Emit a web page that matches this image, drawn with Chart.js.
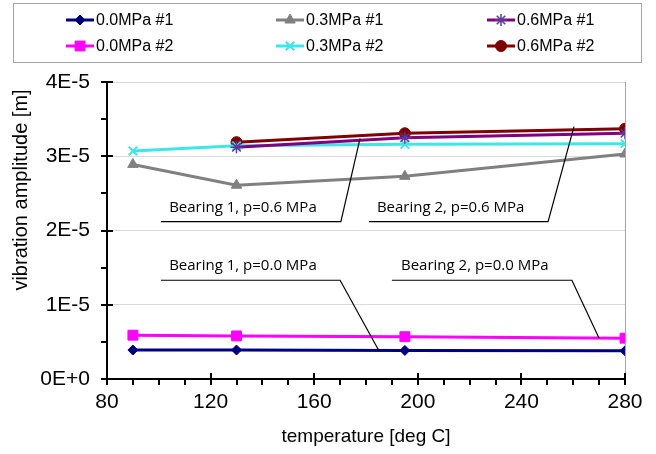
<!DOCTYPE html>
<html>
<head>
<meta charset="utf-8">
<script src="https://cdn.jsdelivr.net/npm/chart.js@4.4.1/dist/chart.umd.min.js"></script>
<style>
  html, body { margin: 0; padding: 0; background: #fff; }
  canvas { display: block; }
</style>
</head>
<body>
<canvas id="ampChart" width="656" height="454"></canvas>
<script>
// ====== DATA ======
// measuring temperatures [deg C]
const temps = [90, 130, 195, 280];

// vibration amplitude [m] per bearing and oil pressure
const amp00b1 = [3.9e-6, 3.9e-6, 3.85e-6, 3.8e-6];
const amp03b1 = [2.89e-5, 2.61e-5, 2.73e-5, 3.03e-5];
const amp06b1 = [null, 3.12e-5, 3.25e-5, 3.31e-5];
const amp00b2 = [5.9e-6, 5.8e-6, 5.7e-6, 5.5e-6];
const amp03b2 = [3.07e-5, 3.14e-5, 3.16e-5, 3.17e-5];
const amp06b2 = [null, 3.19e-5, 3.31e-5, 3.37e-5];

const seriesNames = ['0.0MPa #1', '0.3MPa #1', '0.6MPa #1', '0.0MPa #2', '0.3MPa #2', '0.6MPa #2'];

// axis ticks
const xTicks = [80, 120, 160, 200, 240, 280];
const yTicks = [0, 1e-5, 2e-5, 3e-5, 4e-5];
const xMinorStep = 10;
const yMinorStep = 0.5e-5;

// callout labels, anchored in data units (temperature, amplitude)
const callouts = [
  { text: 'Bearing 1, p=0.6 MPa', at: [104, 2.30e-5], path: [[100.8, 2.12e-5], [170.3, 2.12e-5], [177.7, 3.24e-5]] },
  { text: 'Bearing 2, p=0.6 MPa', at: [184.2, 2.30e-5], path: [[181.2, 2.12e-5], [250.3, 2.12e-5], [260.3, 3.40e-5]] },
  { text: 'Bearing 1, p=0.0 MPa', at: [104, 1.52e-5], path: [[100.8, 1.33e-5], [170, 1.33e-5], [185, 0.38e-5]] },
  { text: 'Bearing 2, p=0.0 MPa', at: [193.5, 1.52e-5], path: [[190, 1.33e-5], [259.5, 1.33e-5], [270, 0.55e-5]] },
];

const AXIS_FONT = '"Liberation Sans", Arial, sans-serif';

const toPoints = vals => temps.map((t, i) => ({ x: t, y: vals[i] }));

function series(i, vals, color, style, radius, extra = {}) {
  return Object.assign({
    label: seriesNames[i],
    data: toPoints(vals),
    borderColor: color,
    backgroundColor: color,
    borderWidth: 3,
    pointStyle: style,
    pointRadius: radius,
    pointHoverRadius: radius,
    pointBackgroundColor: color,
    pointBorderColor: color,
    pointBorderWidth: 1,
    tension: 0,
    spanGaps: false,
  }, extra);
}

const fmtAmp = v => v === 0 ? '0E+0' : Math.round(v * 1e5) + 'E-5';

// ====== PLUGINS ======
// Excel-style tick marks: majors cross the axis, minors sit outside
const axisTicks = {
  id: 'axisTicks',
  afterDatasetsDraw(chart) {
    const { ctx, chartArea: a, scales: { x, y } } = chart;
    ctx.save();
    ctx.strokeStyle = '#000';
    ctx.lineWidth = 2;
    ctx.beginPath();
    for (let v = xTicks[0]; v <= xTicks[xTicks.length - 1]; v += xMinorStep) {
      const px = Math.round(x.getPixelForValue(v));
      const major = xTicks.includes(v);
      ctx.moveTo(px, a.bottom - (major ? 6 : 0));
      ctx.lineTo(px, a.bottom + 6);
    }
    for (let k = 0; k <= 8; k++) {
      const v = k * yMinorStep;
      const py = Math.round(y.getPixelForValue(v));
      const major = k % 2 === 0;
      ctx.moveTo(a.left - 6, py);
      ctx.lineTo(a.left + (major ? 6 : 0), py);
    }
    ctx.stroke();
    ctx.restore();
  }
};

// callout boxes with leader lines
const calloutPlugin = {
  id: 'callouts',
  afterDatasetsDraw(chart) {
    const { ctx, scales: { x, y } } = chart;
    ctx.save();
    ctx.strokeStyle = '#000';
    ctx.lineWidth = 1.2;
    ctx.fillStyle = '#000';
    ctx.font = '15px "Open Sans", sans-serif';
    ctx.textBaseline = 'middle';
    callouts.forEach(c => {
      ctx.beginPath();
      c.path.forEach(([tx, ta], i) => {
        const px = x.getPixelForValue(tx), py = y.getPixelForValue(ta);
        i ? ctx.lineTo(px, py) : ctx.moveTo(px, py);
      });
      ctx.stroke();
      ctx.fillText(c.text, x.getPixelForValue(c.at[0]), y.getPixelForValue(c.at[1]));
    });
    ctx.restore();
  }
};

// axis titles
const titlesPlugin = {
  id: 'titles',
  afterDraw(chart) {
    const { ctx, chartArea: a } = chart;
    ctx.save();
    ctx.fillStyle = '#000';
    ctx.textAlign = 'center';
    ctx.textBaseline = 'middle';
    ctx.font = '19px ' + AXIS_FONT;
    ctx.fillText('temperature [deg C]', (a.left + a.right) / 2, 437);
    ctx.font = '20px ' + AXIS_FONT;
    ctx.translate(21, 190);
    ctx.rotate(-Math.PI / 2);
    ctx.fillText('vibration amplitude [m]', 0, 0);
    ctx.restore();
  }
};

// boxed legend, three columns by two rows
const legendCols = [66, 276, 487];
const legendRows = [20, 46];
const gridLegend = {
  id: 'gridLegend',
  afterDraw(chart) {
    const ctx = chart.ctx;
    ctx.save();
    ctx.strokeStyle = '#a6a6a6';
    ctx.lineWidth = 1;
    ctx.strokeRect(13.5, 3.5, 628, 59);
    ctx.font = '16px ' + AXIS_FONT;
    ctx.textBaseline = 'middle';
    chart.data.datasets.forEach((ds, i) => {
      const x0 = legendCols[i % 3];
      const yy = legendRows[Math.floor(i / 3)];
      ctx.strokeStyle = ds.borderColor;
      ctx.lineWidth = ds.borderWidth;
      ctx.beginPath();
      ctx.moveTo(x0, yy);
      ctx.lineTo(x0 + 28, yy);
      ctx.stroke();
      ctx.fillStyle = ds.pointBackgroundColor;
      ctx.strokeStyle = ds.pointBorderColor;
      ctx.lineWidth = ds.pointBorderWidth;
      Chart.helpers.drawPoint(ctx, {
        pointStyle: ds.pointStyle, radius: ds.pointRadius,
        borderWidth: ds.pointBorderWidth, rotation: 0
      }, x0 + 14, yy);
      ctx.fillStyle = '#000';
      ctx.fillText(ds.label, x0 + 30, yy + 1);
    });
    ctx.restore();
  }
};

// ====== CHART ======
new Chart(document.getElementById('ampChart'), {
  type: 'line',
  data: {
    datasets: [
      series(0, amp00b1, '#000080', 'rectRot', 5),
      series(1, amp03b1, '#808080', 'triangle', 6),
      series(2, amp06b1, '#800080', 'star', 6, { pointBorderColor: '#5a3a9a', pointBorderWidth: 1.5 }),
      series(3, amp00b2, '#ff00ff', 'rect', 7),
      series(4, amp03b2, '#3ee6e6', 'crossRot', 6, { pointBorderWidth: 2 }),
      series(5, amp06b2, '#800000', 'circle', 5.5),
    ]
  },
  options: {
    responsive: false,
    animation: false,
    layout: { padding: { top: 82, right: 31, left: 0, bottom: 0 } },
    plugins: { legend: { display: false }, tooltip: { enabled: false } },
    scales: {
      x: {
        type: 'linear', min: 80, max: 280,
        afterBuildTicks: s => { s.ticks = xTicks.map(v => ({ value: v })); },
        afterFit: s => { s.height = 75; },
        grid: {
          drawTicks: false, lineWidth: 1,
          color: c => (c.tick && c.tick.value === 280) ? '#a6a6a6' : 'rgba(0,0,0,0)'
        },
        border: { color: '#000', width: 2 },
        ticks: { padding: 11, color: '#000', maxRotation: 0, font: { family: AXIS_FONT, size: 21 } }
      },
      y: {
        min: 0, max: 4e-5,
        afterBuildTicks: s => { s.ticks = yTicks.map(v => ({ value: v })); },
        afterFit: s => { s.width = 107; },
        grid: { drawTicks: false, color: '#d9d9d9', lineWidth: 1 },
        border: { color: '#000', width: 2 },
        ticks: { padding: 17, color: '#000', callback: fmtAmp, font: { family: AXIS_FONT, size: 21 } }
      }
    }
  },
  plugins: [axisTicks, calloutPlugin, titlesPlugin, gridLegend]
});
</script>
</body>
</html>
